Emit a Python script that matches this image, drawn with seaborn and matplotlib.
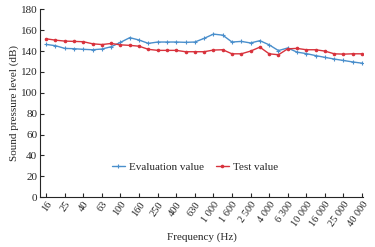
import numpy as np
import pandas as pd
import seaborn as sns
import matplotlib.pyplot as plt

# 1/3 octave centre frequencies (Hz)
freqs = ['16', '20', '25', '31.5', '40', '50', '63', '80', '100', '125', '160', '200',
         '250', '315', '400', '500', '630', '800', '1 000', '1 250', '1 600', '2 000',
         '2 500', '3 150', '4 000', '5 000', '6 300', '8 000', '10 000', '12 500',
         '16 000', '20 000', '25 000', '31 500', '40 000']

evaluation = [146.4, 145.2, 142.6, 142.3, 141.7, 141.3, 142.0, 144.2, 148.4, 152.9,
              150.6, 147.4, 148.7, 148.7, 148.7, 148.4, 148.7, 152.2, 156.3, 155.3,
              148.7, 149.3, 147.8, 150.0, 146.0, 140.5, 143.0, 139.0, 137.6, 135.7,
              134.0, 132.4, 131.0, 129.6, 128.4]
test = [151.8, 150.5, 149.6, 149.3, 149.0, 147.0, 146.3, 147.3, 146.0, 145.5,
        144.7, 141.7, 140.7, 140.7, 140.7, 139.4, 139.4, 139.4, 141.0, 141.3,
        137.4, 137.4, 140.0, 143.8, 137.4, 136.5, 142.2, 142.6, 141.3, 141.3,
        140.0, 137.4, 137.1, 137.4, 137.4]

df = pd.DataFrame({'pos': np.arange(len(freqs)), 'Evaluation value': evaluation,
                   'Test value': test})

sns.set_style("ticks")
plt.rcParams['font.family'] = ['Liberation Serif', 'DejaVu Serif']

blue = '#4a8fcc'
red = '#d8323c'

fig = plt.figure(figsize=(3.75, 2.47), dpi=100)
ax = fig.add_axes([0.107, 0.202, 0.861, 0.76])

sns.lineplot(data=df, x='pos', y='Evaluation value', ax=ax, color=blue,
             marker='+', markersize=3, markeredgewidth=0.8, markeredgecolor=blue,
             linewidth=1.0, label='Evaluation value')
sns.lineplot(data=df, x='pos', y='Test value', ax=ax, color=red,
             marker='o', markersize=2.6, markeredgewidth=0, linewidth=1.0,
             label='Test value')

ax.set_xlim(-0.65, 34.1)
ax.set_ylim(0, 180)
ax.set_yticks(range(0, 181, 20))
ax.set_xticks(df['pos'][::2])
ax.set_xticklabels(freqs[::2], rotation=55, ha='right', va='top',
                   rotation_mode='anchor', fontsize=7.5)
ax.tick_params(axis='y', labelsize=8)
ax.tick_params(direction='in', length=3, width=0.8, pad=2)
for s in ['top', 'right']:
    ax.spines[s].set_visible(False)
for s in ['left', 'bottom']:
    ax.spines[s].set_linewidth(0.8)

ax.set_xlabel('Frequency (Hz)', fontsize=8, labelpad=3)
ax.set_ylabel('Sound pressure level (dB)', fontsize=8, labelpad=1)
ax.legend(loc='center', bbox_to_anchor=(0.48, 0.16), ncol=2, frameon=False,
          fontsize=8, handlelength=1.2, columnspacing=1.0, handletextpad=0.4)

fig.savefig('out.png', dpi=100)
